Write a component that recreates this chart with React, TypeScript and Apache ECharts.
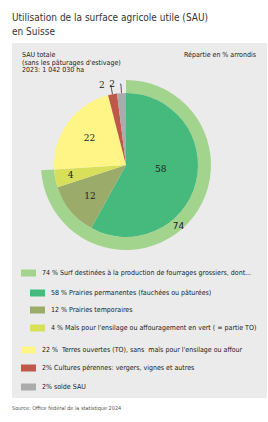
import React, { useEffect, useRef } from "react";
import * as echarts from "echarts";

const titleLines = ["Utilisation de la surface agricole utile (SAU)", "en Suisse"];
const infoLines = ["SAU totale", "(sans les pâturages d'estivage)", "2023: 1 042 030 ha"];
const noteText = "Répartie en % arrondis";
const sourceText = "Source: Office fédéral de la statistique 2024";

const ringName = "Surf destinées à la production de fourrages grossiers, dont...";
const ringValue = 74;
const ringColor = "#a3d48d";

const categories = [
  "Prairies permanentes (fauchées ou pâturées)",
  "Prairies temporaires",
  "Maïs pour l'ensilage ou affouragement en vert ( = partie TO)",
  "Terres ouvertes (TO), sans  maïs pour l'ensilage ou affour",
  "Cultures pérennes: vergers, vignes et autres",
  "solde SAU",
];
const values = [58, 12, 4, 22, 2, 2];
const colors = ["#46b97c", "#9bab69", "#d8e05b", "#fef586", "#bf5848", "#ababab"];
const labelOffsets = [[-3, -6], [-6, 6], [-17, 3], [-5, -4], [0, 0], [0, 0]];

const legendTexts = [
  "74 % Surf destinées à la production de fourrages grossiers, dont...",
  "58 % Prairies permanentes (fauchées ou pâturées)",
  "12 % Prairies temporaires",
  "4 % Maïs pour l'ensilage ou affouragement en vert ( = partie TO)",
  "22 %  Terres ouvertes (TO), sans  maïs pour l'ensilage ou affour",
  "2% Cultures pérennes: vergers, vignes et autres",
  "2% solde SAU",
];
const legendColors = [ringColor, ...colors];
const legendIndent = [0, 1, 1, 1, 0, 0, 0];
const legendY = [273, 293, 310, 328, 350, 368, 387];

const FONT = "'Liberation Sans Narrow', 'Arial Narrow', 'DejaVu Sans Condensed', sans-serif";

export default function App() {
  const ref = useRef<HTMLDivElement>(null);
  useEffect(() => {
    if (!ref.current) return;
    const chart = echarts.init(ref.current, undefined, { renderer: "svg" });
    const graphic: any[] = [];
    graphic.push({
      type: "rect",
      z: -10,
      shape: { x: 12, y: 43, width: 255, height: 355 },
      style: { fill: "#ebebeb" },
    });
    titleLines.forEach((t, i) => {
      graphic.push({
        type: "text",
        x: 12,
        y: 17 + i * 14,
        style: { text: t, font: `10px ${FONT}`, fill: "#333", textVerticalAlign: "middle", verticalAlign: "middle" },
      });
    });
    infoLines.forEach((t, i) => {
      graphic.push({
        type: "text",
        x: 22,
        y: 55 + i * 7.5,
        style: { text: t, font: `7px ${FONT}`, fill: "#222", textVerticalAlign: "middle", verticalAlign: "middle" },
      });
    });
    graphic.push({
      type: "text",
      x: 256,
      y: 55,
      style: { text: noteText, font: `7px ${FONT}`, fill: "#222", textAlign: "right", align: "right", textVerticalAlign: "middle", verticalAlign: "middle" },
    });
    legendTexts.forEach((t, i) => {
      const x0 = 21 + legendIndent[i] * 9;
      const y = legendY[i];
      graphic.push({
        type: "rect",
        shape: { x: x0, y: y - 3.5, width: 15, height: 7 },
        style: { fill: legendColors[i] },
      });
      graphic.push({
        type: "text",
        x: x0 + 21,
        y: y,
        style: { text: t, font: `7px ${FONT}`, fill: "#222", textVerticalAlign: "middle", verticalAlign: "middle" },
      });
    });
    graphic.push({
      type: "text",
      x: 12,
      y: 408,
      style: { text: sourceText, font: `5.5px ${FONT}`, fill: "#555", textVerticalAlign: "middle", verticalAlign: "middle" },
    });

    const innerData = categories.map((name, i) => {
      const outside = i >= 4;
      return {
        name,
        value: values[i],
        itemStyle: { color: colors[i] },
        label: outside
          ? { position: "outside", show: true }
          : { position: "inside", show: true, offset: labelOffsets[i] },
        labelLine: { show: outside },
      };
    });

    chart.setOption({
      animation: false,
      graphic,
      series: [
        {
          type: "pie",
          center: [126, 165],
          radius: [72, 85],
          startAngle: 90,
          clockwise: true,
          silent: true,
          data: [
            { name: ringName, value: ringValue, itemStyle: { color: ringColor }, label: { show: true, offset: [-7, 5] } },
            { name: "rest", value: 100 - ringValue, itemStyle: { color: "rgba(0,0,0,0)" }, label: { show: false } },
          ],
          label: {
            position: "inside",
            formatter: "{c}",
            fontSize: 9,
            color: "#222",
            fontFamily: "'DejaVu Sans', sans-serif",
          },
          labelLine: { show: false },
        },
        {
          type: "pie",
          center: [126, 165],
          radius: [0, 72],
          startAngle: 90,
          clockwise: true,
          silent: true,
          avoidLabelOverlap: false,
          data: innerData,
          label: {
            formatter: "{c}",
            fontSize: 9,
            color: "#222",
            fontFamily: "'DejaVu Serif', serif",
          },
          labelLine: {
            show: true,
            length: 9,
            length2: 1,
            lineStyle: { color: "#333", width: 0.8 },
          },
        },
      ],
    });
    return () => chart.dispose();
  }, []);
  return (
    <div
      ref={ref}
      style={{ position: "absolute", left: 0, top: 0, width: 268, height: 422 }}
    />
  );
}
